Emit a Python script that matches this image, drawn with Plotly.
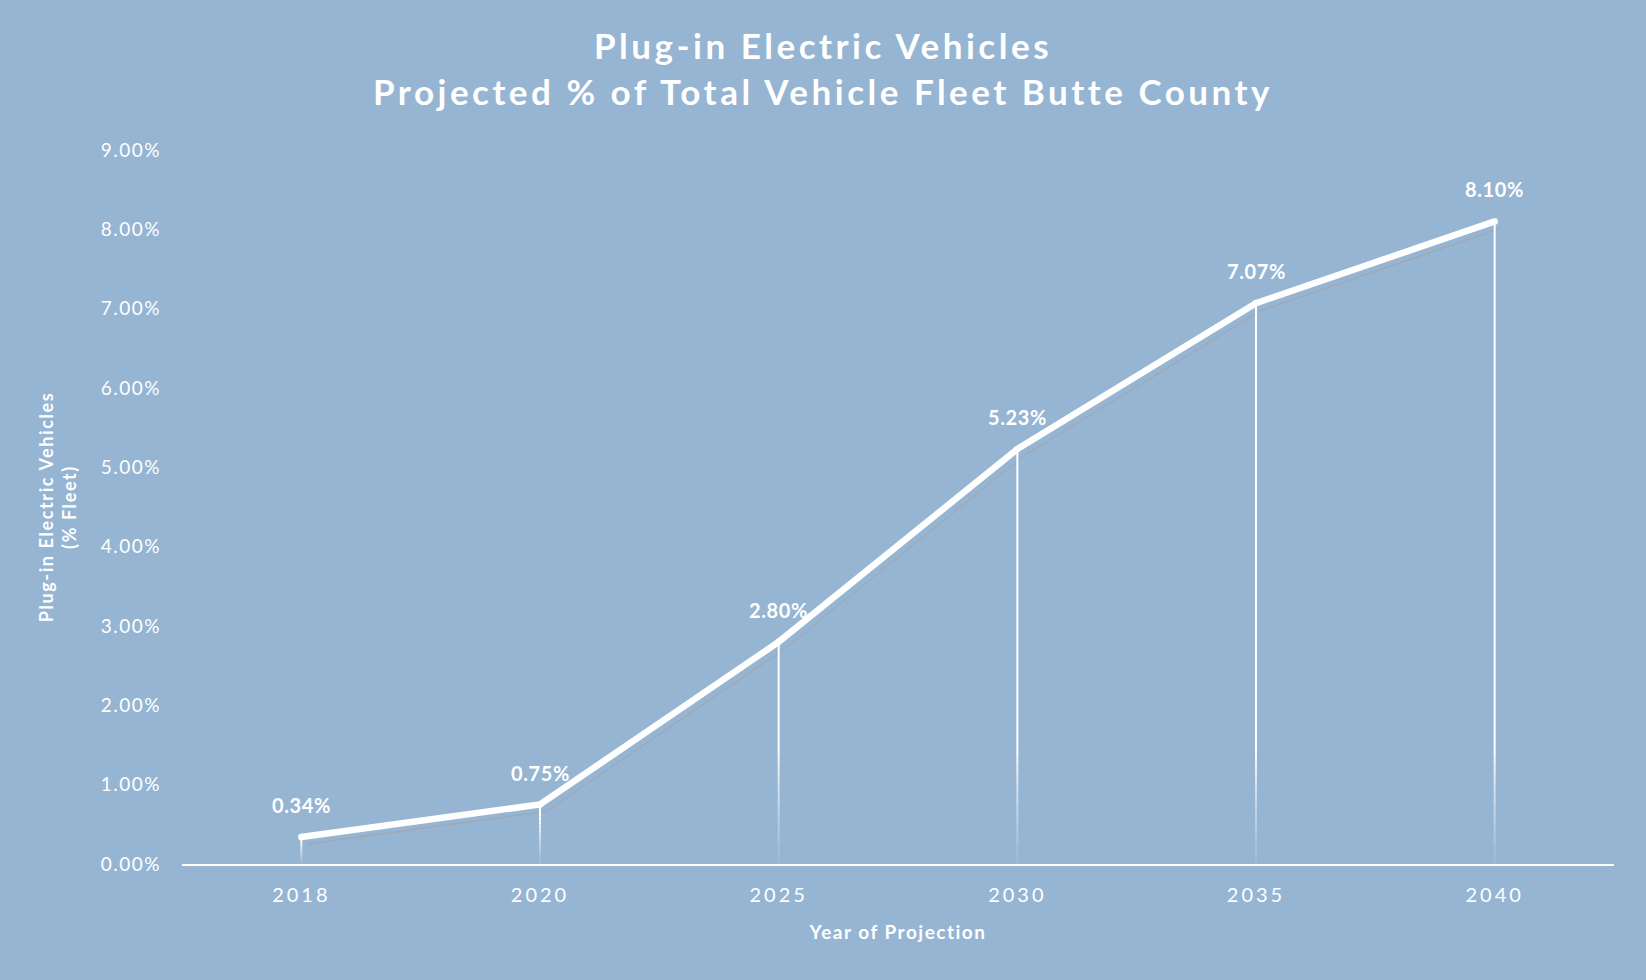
import plotly.graph_objects as go

years = ["2018", "2020", "2025", "2030", "2035", "2040"]
share = [0.34, 0.75, 2.80, 5.23, 7.07, 8.10]
labels = ["0.34%", "0.75%", "2.80%", "5.23%", "7.07%", "8.10%"]
ytick_vals = [0, 1, 2, 3, 4, 5, 6, 7, 8, 9]
ytick_text = ["0.00%", "1.00%", "2.00%", "3.00%", "4.00%", "5.00%", "6.00%", "7.00%", "8.00%", "9.00%"]

BG = "#95B5D3"
FONT = "Lato"
W, H = 1646, 980
L, T = 182, 150
AW, AH = 1438, 721
DX, DY = 6, 7


def sp(text, px):
    return f'<span style="letter-spacing:{px}px">{text}</span>'


fig = go.Figure()

# shadow line (offset, hidden axes x/y)
fig.add_trace(go.Scatter(x=years, y=share, mode="lines", xaxis="x", yaxis="y",
                         line=dict(color="rgba(168,160,160,0.85)", width=1),
                         hoverinfo="skip", showlegend=False))

# fading drop lines (main axes x2/y2): gradient region near the axis, solid above
NSEG = 12
for yr, v in zip(years, share):
    fade = min(1.5, 0.8 * v)
    for k in range(NSEG):
        lo, hi = fade * k / NSEG, fade * (k + 1) / NSEG
        op = 0.08 + 0.92 * ((k + 0.5) / NSEG) ** 1.2
        fig.add_trace(go.Scatter(x=[yr, yr], y=[lo, hi], mode="lines", xaxis="x2", yaxis="y2",
                                 line=dict(color=f"rgba(255,255,255,{op:.3f})", width=2),
                                 hoverinfo="skip", showlegend=False))
    fig.add_trace(go.Scatter(x=[yr, yr], y=[fade, v], mode="lines", xaxis="x2", yaxis="y2",
                             line=dict(color="white", width=2),
                             hoverinfo="skip", showlegend=False))

# main line
fig.add_trace(go.Scatter(x=years, y=share, mode="lines+markers", xaxis="x2", yaxis="y2",
                         line=dict(color="white", width=6.5),
                         marker=dict(color="white", size=6.5),
                         showlegend=False))

for i, (v, t) in enumerate(zip(share, labels)):
    fig.add_annotation(x=i, y=v, xref="x2", yref="y2", text="<b>" + sp(t, 0.6) + "</b>",
                       showarrow=False, yshift=32,
                       font=dict(family=FONT, size=20, color="white"))

fig.update_layout(
    width=W, height=H,
    paper_bgcolor=BG, plot_bgcolor="rgba(0,0,0,0)",
    margin=dict(l=L, r=W - L - AW, t=T, b=H - T - AH),
    title=dict(text="<b>" + sp("Plug-in Electric Vehicles<br>Projected % of Total Vehicle Fleet Butte County", 3.5) + "</b>",
               x=0.5, xanchor="center", y=1 - 59 / H, yanchor="middle",
               font=dict(family=FONT, size=35, color="white")),
    xaxis=dict(type="category", domain=[DX / AW, 1], range=[-0.5, 5.5],
               visible=False, anchor="y"),
    yaxis=dict(domain=[0, (AH - DY) / AH], range=[0, 9], visible=False, anchor="x"),
    xaxis2=dict(type="category", domain=[0, (AW - DX) / AW], range=[-0.5, 5.5], anchor="y2",
                showgrid=False, zeroline=False, showline=True, linecolor="white", linewidth=2,
                ticks="", tickfont=dict(family=FONT, size=20, color="white"),
                tickvals=years, ticktext=[sp(y, 3) for y in years],
                ticklabelstandoff=12,
                title=dict(text="<b>" + sp("Year of Projection", 1.5) + "</b>", standoff=21,
                           font=dict(family=FONT, size=19, color="white"))),
    yaxis2=dict(domain=[DY / AH, 1], range=[0, 9], anchor="x2",
                tickvals=ytick_vals, ticktext=[sp(t, 1.5) for t in ytick_text],
                showgrid=False, zeroline=False, showline=False,
                ticks="", tickfont=dict(family=FONT, size=19, color="white"),
                ticklabelstandoff=20,
                title=dict(text="<b>" + sp("Plug-in Electric Vehicles<br>(% Fleet)", 1.6) + "</b>", standoff=19,
                           font=dict(family=FONT, size=18, color="white"))),
)

fig.write_html("out.html")
